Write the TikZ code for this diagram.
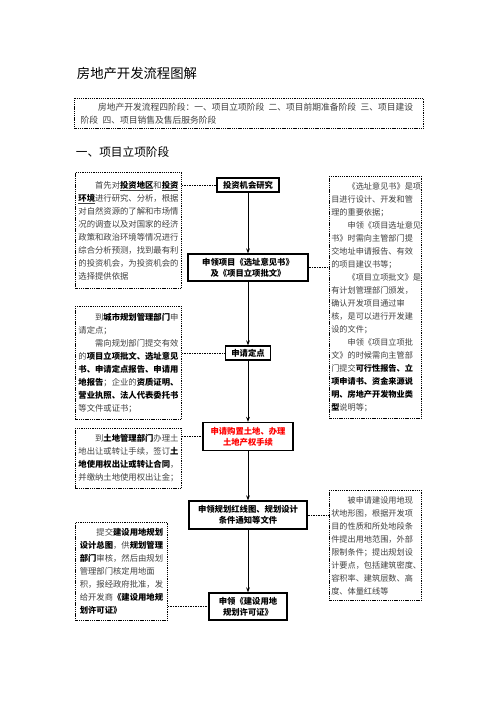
\documentclass[tikz,border=0pt]{standalone}
\usepackage{fontspec}
\setmainfont{Noto Sans CJK SC}
\usetikzlibrary{arrows.meta}
\newcommand{\bt}[1]{\textbf{\color{black}#1}}
\newcommand{\ut}[1]{\underline{\textbf{\color{black}#1}}}
\begin{document}
\begin{tikzpicture}[x=1.2pt,y=-1.2pt,
  stepnode/.style={draw,line width=1.5pt,inner sep=0pt,align=center,
    font=\fontsize{10pt}{13pt}\selectfont\bfseries},
  sidebox/.style={draw,line width=1.1pt,dash pattern=on 1.3pt off 0.9pt,
    anchor=north west,align=left,inner sep=0pt,text=black!75,
    font=\fontsize{10pt}{15.6pt}\selectfont},
  rightbox/.style={sidebox,text width=106pt,minimum width=110.4pt,
    font=\fontsize{9.8pt}{15.6pt}\selectfont},
  flow/.style={line width=1.2pt,-{Stealth[length=6pt,width=4.5pt]}},
  link/.style={line width=0.8pt,dash pattern=on 1pt off 1pt}
  ]
    \useasboundingbox (0,0) rectangle (496,702);

    \node[anchor=west,font=\fontsize{16pt}{16pt}\selectfont] (title) at (74,73) {房地产开发流程图解};
    \node[sidebox,text width=404pt,minimum width=418.8pt,minimum height=36pt,
      font=\fontsize{10.5pt}{15.6pt}\selectfont] (intro) at (74,98)
      {\hspace*{2em}房地产开发流程四阶段：一、项目立项阶段\hspace{0.5em}二、项目前期准备阶段\hspace{0.5em}三、项目建设\\
       阶段\hspace{0.5em}四、项目销售及售后服务阶段};
    \node[anchor=west,font=\fontsize{14pt}{14pt}\selectfont] (stage) at (73,152) {一、项目立项阶段};

    % main steps
    \node[stepnode,minimum width=74.4pt,minimum height=16.8pt] (n1) at (248,185) {投资机会研究};
    \node[stepnode,minimum width=144pt,minimum height=32.4pt] (n2) at (248,267.5) {申领项目《选址意见书》\\及《项目立项批文》};
    \node[stepnode,minimum width=54pt,minimum height=16.8pt] (n3) at (248,353) {申请定点};
    \node[stepnode,minimum width=108pt,minimum height=33.6pt,text=red] (n4) at (248,436.5) {申请购置土地、办理\\土地产权手续};
    \node[stepnode,minimum width=141.6pt,minimum height=33.6pt] (n5) at (248,515) {申领规划红线图、规划设计\\条件通知等文件};
    \node[stepnode,minimum width=93.6pt,minimum height=32.4pt] (n6) at (248,606.5) {申领《建设用地\\规划许可证》};

    % notes on the left
    \node[sidebox,text width=120pt,minimum width=127.2pt,minimum height=139.2pt] (lb1) at (75,172)
      {\hspace*{2em}首先对\ut{投资地区}和\ut{投资}\\
       \ut{环境}进行研究、分析，根据\\
       对自然资源的了解和市场情\\
       况的调查以及对国家的经济\\
       政策和政治环境等情况进行\\
       综合分析预测，找到最有利\\
       的投资机会，为投资机会的\\
       选择提供依据};
    \node[sidebox,text width=120pt,minimum width=127.2pt,minimum height=135.6pt] (lb2) at (75,306)
      {\hspace*{2em}到\bt{城市规划管理部门}申\\
       请定点；\\
       \hspace*{2em}需向规划部门提交有效\\
       的\bt{项目立项批文、选址意见}\\
       \bt{书、申请定点报告、申请用}\\
       \bt{地报告}；企业的\bt{资质证明、}\\
       \bt{营业执照、法人代表委托书}\\
       等文件或证书；};
    \node[sidebox,text width=120pt,minimum width=127.2pt,minimum height=72pt] (lb3) at (75,428)
      {\hspace*{2em}到\bt{土地管理部门}办理土\\
       地出让或转让手续，签订\bt{土}\\
       \bt{地使用权出让或转让合同}，\\
       并缴纳土地使用权出让金；};
    \node[sidebox,text width=100pt,minimum width=110.4pt,minimum height=117.6pt] (lb4) at (75,522)
      {\hspace*{2em}提交\bt{建设用地规划}\\
       \bt{设计总图}，供\bt{规划管理}\\
       \bt{部门}审核，然后由规划\\
       管理部门核定用地面\\
       积，报经政府批准，发\\
       给开发商\bt{《建设用地规}\\
       \bt{划许可证》}};

    % notes on the right
    \node[rightbox,minimum height=290.4pt] (rb1) at (329,176)
      {\hspace*{2em}《选址意见书》是项\\
       目进行设计、开发和管\\
       理的重要依据；\\
       \hspace*{2em}申领《项目选址意见\\
       书》时需向主管部门提\\
       交地址申请报告、有效\\
       的项目建议书等；\\
       \hspace*{2em}《项目立项批文》是\\
       有计划管理部门颁发，\\
       确认开发项目通过审\\
       核，是可以进行开发建\\
       设的文件；\\
       \hspace*{2em}申领《项目立项批\\
       文》的时候需向主管部\\
       门提交\bt{可行性报告、立}\\
       \bt{项申请书、资金来源说}\\
       \bt{明、房地产开发物业类}\\
       \bt{型}说明等；};
    \node[rightbox,minimum height=132pt] (rb2) at (329,490)
      {\hspace*{2em}被申请建设用地现\\
       状地形图，根据开发项\\
       目的性质和所处地段条\\
       件提出用地范围，外部\\
       限制条件；提出规划设\\
       计要点，包括建筑密度、\\
       容积率、建筑层数、高\\
       度、体量红线等};

    % arrows
    \draw[flow] (n1.south) -- (n2.north);
    \draw[flow] (n2.south) -- (n3.north);
    \draw[flow] (n3.south) -- (n4.north);
    \draw[flow] (n4.south) -- (n5.north);
    \draw[flow] (n5.south) -- (n6.north);

    % dotted links
    \draw[link] (n1.west -| lb1.east) -- (n1.west);
    \draw[link] (n2.east) -- (n2.east -| rb1.west);
    \draw[link] (n3.west -| lb2.east) -- (n3.west);
    \draw[link] (n4.west -| lb3.east) -- (n4.west);
    \draw[link] (n5.east) -- (n5.east -| rb2.west);
    \draw[link] (n6.west -| lb4.east) -- (n6.west);
\end{tikzpicture}
\end{document}
